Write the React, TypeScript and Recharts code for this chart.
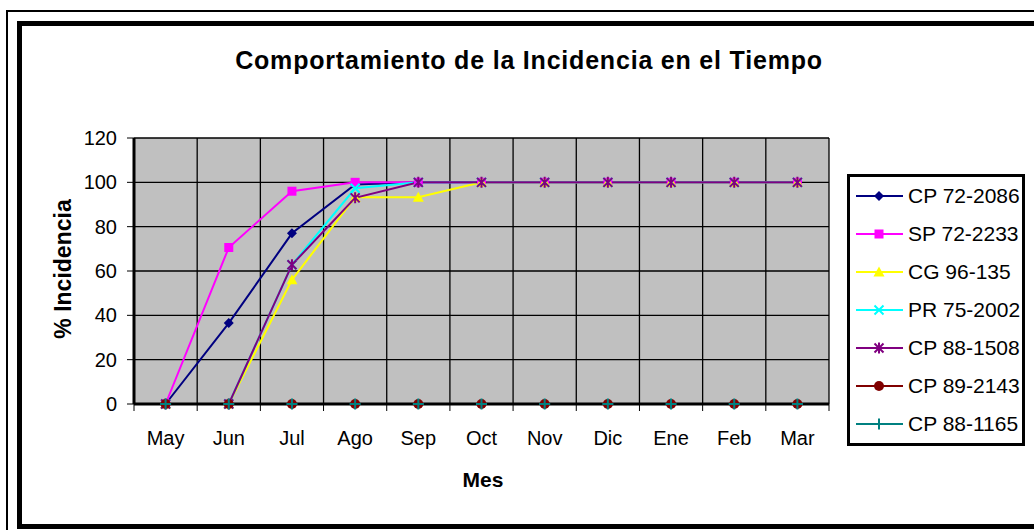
import { LineChart, Line, XAxis, YAxis, CartesianGrid } from 'recharts'

const MONTHS = ['May', 'Jun', 'Jul', 'Ago', 'Sep', 'Oct', 'Nov', 'Dic', 'Ene', 'Feb', 'Mar']
const Y_TICKS = [0, 20, 40, 60, 80, 100, 120]

const CP_72_2086 = [0, 36.5, 77, 99, 100, 100, 100, 100, 100, 100, 100]
const SP_72_2233 = [0, 70.6, 96, 100, 100, 100, 100, 100, 100, 100, 100]
const CG_96_135 = [0, 0, 56, 93.3, 93.3, 100, 100, 100, 100, 100, 100]
const PR_75_2002 = [0, 0, 62.8, 97.3, 100, 100, 100, 100, 100, 100, 100]
const CP_88_1508 = [0, 0, 62.8, 93, 100, 100, 100, 100, 100, 100, 100]
const CP_89_2143 = [0, 0, 0, 0, 0, 0, 0, 0, 0, 0, 0]
const CP_88_1165 = [0, 0, 0, 0, 0, 0, 0, 0, 0, 0, 0]

type MarkerKind = 'diamond' | 'square' | 'triangle' | 'x' | 'star' | 'circle' | 'plus'

const SERIES: { key: string; name: string; values: number[]; color: string; marker: MarkerKind }[] = [
  { key: 's1', name: 'CP 72-2086', values: CP_72_2086, color: '#000080', marker: 'diamond' },
  { key: 's2', name: 'SP 72-2233', values: SP_72_2233, color: '#FF00FF', marker: 'square' },
  { key: 's3', name: 'CG 96-135', values: CG_96_135, color: '#FFFF00', marker: 'triangle' },
  { key: 's4', name: 'PR 75-2002', values: PR_75_2002, color: '#00FFFF', marker: 'x' },
  { key: 's5', name: 'CP 88-1508', values: CP_88_1508, color: '#800080', marker: 'star' },
  { key: 's6', name: 'CP 89-2143', values: CP_89_2143, color: '#800000', marker: 'circle' },
  { key: 's7', name: 'CP 88-1165', values: CP_88_1165, color: '#008080', marker: 'plus' },
]

const data = MONTHS.map((mes, i) => {
  const row: Record<string, string | number> = { mes }
  for (const s of SERIES) row[s.key] = s.values[i]
  return row
})

const FONT = '"Liberation Sans", Arial, sans-serif'

function Marker({ kind, color, cx, cy }: { kind: MarkerKind; color: string; cx: number; cy: number }) {
  const s = 5
  switch (kind) {
    case 'diamond':
      return <polygon points={`${cx},${cy - s} ${cx + s},${cy} ${cx},${cy + s} ${cx - s},${cy}`} fill={color} />
    case 'square':
      return <rect x={cx - 4.5} y={cy - 4.5} width={9} height={9} fill={color} />
    case 'triangle':
      return <polygon points={`${cx},${cy - 5.5} ${cx + 5.5},${cy + 4.5} ${cx - 5.5},${cy + 4.5}`} fill={color} />
    case 'x':
      return (
        <path d={`M${cx - 4.5},${cy - 4.5}L${cx + 4.5},${cy + 4.5}M${cx - 4.5},${cy + 4.5}L${cx + 4.5},${cy - 4.5}`} stroke={color} strokeWidth={2} />
      )
    case 'star':
      return (
        <path
          d={`M${cx - 4.5},${cy - 4.5}L${cx + 4.5},${cy + 4.5}M${cx - 4.5},${cy + 4.5}L${cx + 4.5},${cy - 4.5}M${cx},${cy - 5.5}L${cx},${cy + 5.5}`}
          stroke={color}
          strokeWidth={2}
        />
      )
    case 'circle':
      return <circle cx={cx} cy={cy} r={5} fill={color} />
    case 'plus':
      return <path d={`M${cx},${cy - 5.5}L${cx},${cy + 5.5}M${cx - 5.5},${cy}L${cx + 5.5},${cy}`} stroke={color} strokeWidth={2} />
  }
}

// month label at the band centre, small tick marks on the band edges (Excel style)
function MonthTick({ x, y, payload, index }: any) {
  const half = payload?.offset ?? 0
  return (
    <g>
      <line x1={x - half} x2={x - half} y1={y} y2={y + 7} stroke="#000" />
      {index === MONTHS.length - 1 && <line x1={x + half} x2={x + half} y1={y} y2={y + 7} stroke="#000" />}
      <text x={x} y={y + 41} textAnchor="middle" fontSize={20} fontFamily={FONT} fill="#000">
        {payload.value}
      </text>
    </g>
  )
}

// vertical grid lines on the band edges, taken from the category scale
function bandEdges({ xAxis, offset }: any): number[] {
  const sc = xAxis?.scale
  let lo: number
  let hi: number
  if (sc && typeof sc.range === 'function') {
    const r = sc.range()
    lo = Math.min(r[0], r[1])
    hi = Math.max(r[0], r[1])
  } else {
    lo = offset.left
    hi = offset.left + offset.width
  }
  const step = (hi - lo) / MONTHS.length
  return [...MONTHS.map((_, i) => lo + i * step), hi]
}

export default function App() {
  return (
    <div style={{ position: 'absolute', left: 0, top: 0, width: 1034, height: 530, overflow: 'hidden', background: '#fff', fontFamily: FONT }}>
      <div style={{ position: 'absolute', left: 6, top: 10, width: 1100, height: 600, border: '2px solid #000' }} />
      <div style={{ position: 'absolute', left: 17, top: 21, width: 1100, height: 508, boxSizing: 'border-box', border: '5px solid #000' }} />

      <svg width={1034} height={530} style={{ position: 'absolute', left: 0, top: 0 }}>
        <text x={529} y={69} textAnchor="middle" fontSize={25} fontWeight="bold" letterSpacing={0.8} fontFamily={FONT} fill="#000">
          Comportamiento de la Incidencia en el Tiempo
        </text>
        <text transform="translate(71,269) rotate(-90)" textAnchor="middle" fontSize={23} fontWeight="bold" fontFamily={FONT} fill="#000">
          % Incidencia
        </text>
        <text x={483} y={487} textAnchor="middle" fontSize={21} fontWeight="bold" fontFamily={FONT} fill="#000">
          Mes
        </text>
      </svg>

      <div style={{ position: 'absolute', left: 0, top: 0 }}>
        <LineChart width={1034} height={530} data={data} margin={{ top: 138, right: 205, bottom: 86, left: 74 }}>
          <CartesianGrid
            xAxisId="cat"
            yAxisId="left"
            fill="#C0C0C0"
            stroke="#000"
            strokeWidth={1.3}
            verticalCoordinatesGenerator={bandEdges}
          />
          <XAxis
            xAxisId="cat"
            dataKey="mes"
            scale="band"
            axisLine={{ stroke: '#000', strokeWidth: 3 }}
            tickLine={false}
            tickSize={0}
            tickMargin={0}
            interval={0}
            tick={<MonthTick />}
            height={40}
          />
          <XAxis
            xAxisId="top"
            orientation="top"
            dataKey="mes"
            scale="band"
            tick={false}
            tickLine={false}
            axisLine={{ stroke: '#000', strokeWidth: 3 }}
            height={0}
          />
          <YAxis
            yAxisId="left"
            domain={[0, 120]}
            ticks={Y_TICKS}
            width={60}
            tickSize={7}
            tickMargin={10}
            tick={{ fontSize: 20, fill: '#000', fontFamily: FONT }}
            tickLine={{ stroke: '#000' }}
            axisLine={{ stroke: '#000', strokeWidth: 3 }}
          />
          <YAxis
            yAxisId="r"
            orientation="right"
            domain={[0, 120]}
            allowDataOverflow
            ticks={Y_TICKS}
            width={0}
            tick={false}
            tickLine={false}
            axisLine={{ stroke: '#000', strokeWidth: 2 }}
          />
          {SERIES.map((s) => (
            <Line
              key={s.key}
              xAxisId="cat"
              yAxisId="left"
              dataKey={s.key}
              name={s.name}
              stroke={s.color}
              strokeWidth={2}
              isAnimationActive={false}
              dot={(p: any) => <Marker key={`${s.key}-${p.index}`} kind={s.marker} color={s.color} cx={p.cx} cy={p.cy} />}
              activeDot={false}
            />
          ))}
        </LineChart>
      </div>

      <div
        style={{
          position: 'absolute',
          left: 847,
          top: 174,
          width: 178,
          height: 272,
          boxSizing: 'border-box',
          border: '3px solid #000',
          background: '#fff',
        }}
      >
        {SERIES.map((s) => (
          <div key={s.key} style={{ height: 38, display: 'flex', alignItems: 'center' }}>
            <svg width={58} height={38} style={{ flex: 'none' }}>
              <line x1={6} x2={53} y1={19} y2={19} stroke={s.color} strokeWidth={2} />
              <Marker kind={s.marker} color={s.color} cx={29} cy={19} />
            </svg>
            <span style={{ fontSize: 21, color: '#000', whiteSpace: 'nowrap', lineHeight: '38px' }}>{s.name}</span>
          </div>
        ))}
      </div>
    </div>
  )
}
